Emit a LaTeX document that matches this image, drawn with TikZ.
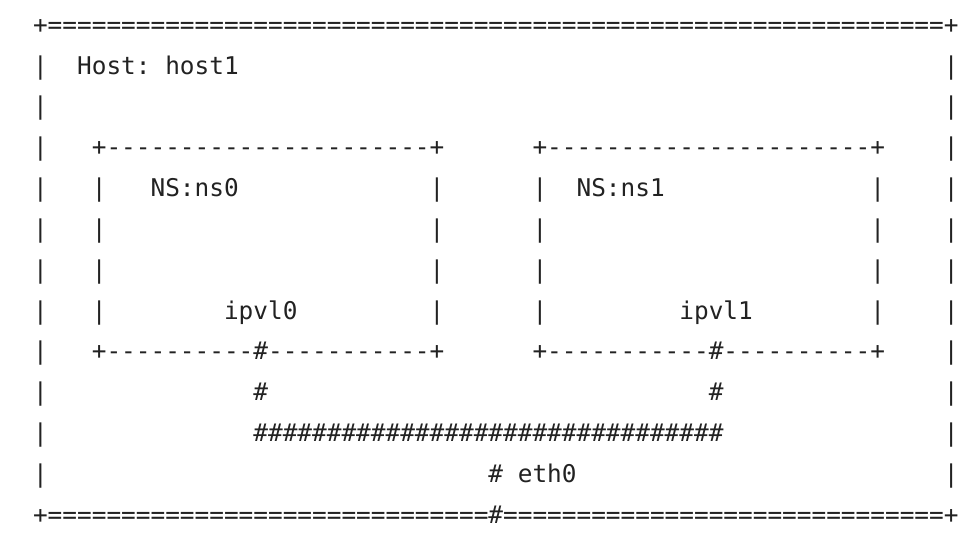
\documentclass[tikz,border=0pt]{standalone}
\usepackage{fontspec}
\setmonofont{DejaVu Sans Mono}
\definecolor{ink}{HTML}{222222}
\begin{document}
\begin{tikzpicture}[x=7.345pt,y=-20.42pt,
	every node/.style={anchor=base west,inner sep=0pt,text=ink,
		font=\fontsize{12.2}{14}\selectfont\ttfamily\frenchspacing}]
	\useasboundingbox (-2.223,0.187) rectangle (64.49,13.36);
	
	% outer frame of the host
	\node (tl) at (0,1) {+};
	\node (tr) at (62,1) {+};
	\foreach \c in {1,...,61} \node (t\c) at (\c,1) {=};
	\node (bl) at (0,13) {+};
	\node (br) at (62,13) {+};
	\foreach \c in {1,...,30,32,33,...,61} \node (b\c) at (\c,13) {=};
	\node (b31) at (31,13) {\#};
	\foreach \r in {2,...,12} {
		\node (wl\r) at (0,\r) {|};
		\node (wr\r) at (62,\r) {|};
	}
	\node (host) at (3,2) {Host: host1};
	
	% namespace ns0
	\node (p0tl) at (4,4) {+};
	\node (p0tr) at (27,4) {+};
	\node (p0bl) at (4,9) {+};
	\node (p0br) at (27,9) {+};
	\foreach \c in {5,...,26} \node (p0t\c) at (\c,4) {-};
	\foreach \c in {5,...,14,16,17,...,26} \node (p0b\c) at (\c,9) {-};
	\foreach \r in {5,...,8} {
		\node (p0l\r) at (4,\r) {|};
		\node (p0r\r) at (27,\r) {|};
	}
	\node (ns0) at (8,5) {NS:ns0};
	\node (ipvl0) at (13,8) {ipvl0};
	\node (k0) at (15,9) {\#};
	
	% namespace ns1
	\node (p1tl) at (34,4) {+};
	\node (p1tr) at (57,4) {+};
	\node (p1bl) at (34,9) {+};
	\node (p1br) at (57,9) {+};
	\foreach \c in {35,...,56} \node (p1t\c) at (\c,4) {-};
	\foreach \c in {35,...,45,47,48,...,56} \node (p1b\c) at (\c,9) {-};
	\foreach \r in {5,...,8} {
		\node (p1l\r) at (34,\r) {|};
		\node (p1r\r) at (57,\r) {|};
	}
	\node (ns1) at (37,5) {NS:ns1};
	\node (ipvl1) at (44,8) {ipvl1};
	\node (k1) at (46,9) {\#};
	
	% links down to eth0
	\node (d0) at (15,10) {\#};
	\node (d1) at (46,10) {\#};
	\foreach \c in {15,...,46} \node (h\c) at (\c,11) {\#};
	\node (d2) at (31,12) {\#};
	\node (eth0) at (33,12) {eth0};
\end{tikzpicture}
\end{document}
